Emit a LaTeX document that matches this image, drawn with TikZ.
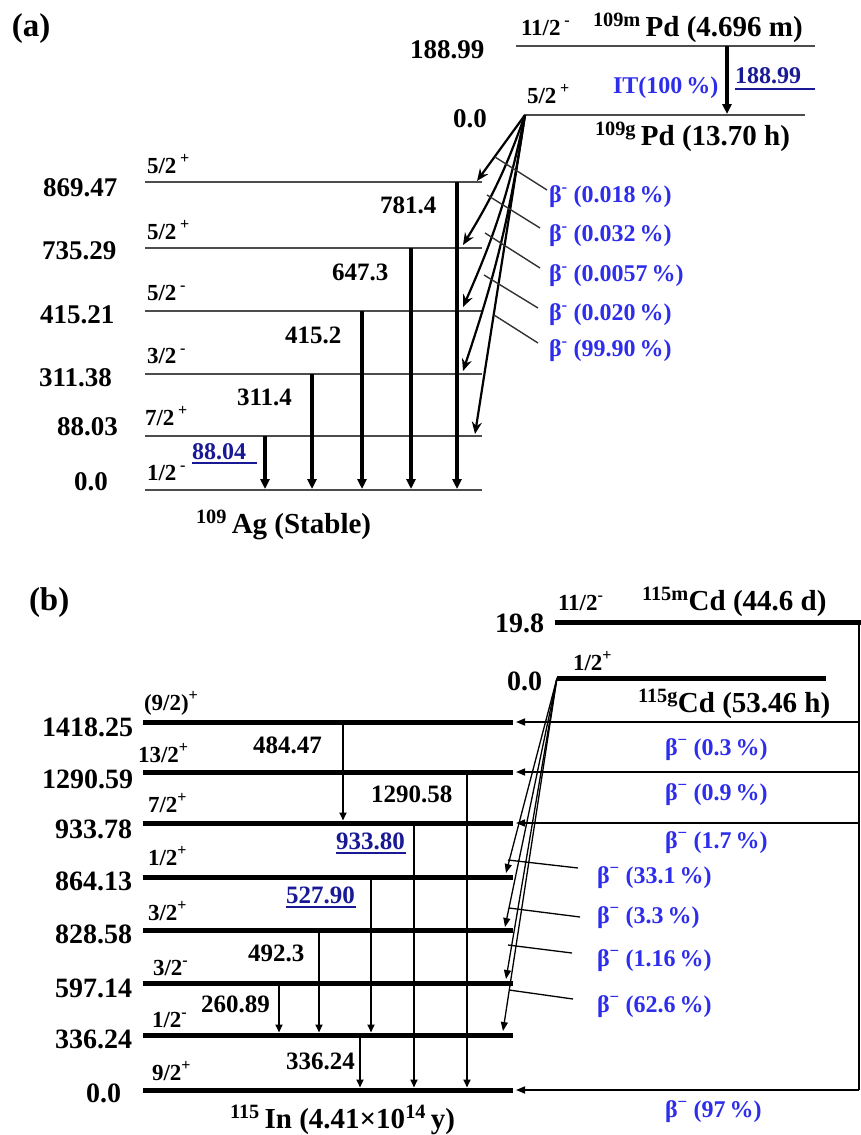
\documentclass[tikz,border=0pt]{standalone}
\usepackage{fontspec}
\setmainfont{Liberation Serif}
\usetikzlibrary{arrows.meta}
\definecolor{btxt}{RGB}{45,45,235}
\definecolor{ulblue}{RGB}{25,25,150}
\begin{document}
\begin{tikzpicture}[x=1pt,y=-1pt,
  every node/.style={inner sep=0pt, outer sep=0pt, anchor=base west},
  lvA/.style={draw=black!70, line width=1.6pt},
  lvB/.style={draw=black, line width=5pt},
  gA/.style={line width=3.4pt, -{Triangle[length=10pt,width=9pt]}, shorten >=1pt},
  bA/.style={line width=2.2pt, -{Stealth[length=12pt,width=10pt]}},
  ldA/.style={line width=1.4pt, draw=black!80},
  gB/.style={line width=1.8pt, -{Triangle[length=8pt,width=7pt]}, shorten >=2.5pt},
  bBh/.style={line width=1.6pt, -{Triangle[length=9pt,width=7pt]}},
  bBd/.style={line width=1.3pt, -{Triangle[length=9pt,width=7pt]}},
  ldB/.style={line width=1.3pt},
  ulin/.style={draw=ulblue, line width=1.5pt},
  panel/.style={font=\fontsize{33}{36}\selectfont\bfseries},
  enA/.style={font=\fontsize{27}{30}\selectfont\bfseries},
  spA/.style={font=\fontsize{23}{26}\selectfont\bfseries},
  gmA/.style={font=\fontsize{25}{28}\selectfont\bfseries},
  titA/.style={font=\fontsize{29}{32}\selectfont\bfseries},
  btA/.style={font=\fontsize{24}{26}\selectfont\bfseries, text=btxt},
  ulA/.style={font=\fontsize{24}{26}\selectfont\bfseries, text=ulblue},
  enB/.style={font=\fontsize{28}{30}\selectfont\bfseries},
  spB/.style={font=\fontsize{23}{26}\selectfont\bfseries},
  gmB/.style={font=\fontsize{25}{28}\selectfont\bfseries},
  titB/.style={font=\fontsize{29}{32}\selectfont\bfseries},
  btB/.style={font=\fontsize{24}{26}\selectfont\bfseries, text=btxt},
  ulB/.style={font=\fontsize{25}{28}\selectfont\bfseries, text=ulblue}
]
\useasboundingbox (0,0) rectangle (861,1135);

% ================= (a) =================
\node[panel] (lblA) at (12,36) {(a)};

% 109Pd levels
\coordinate (PmL) at (516,46);  \coordinate (PmR) at (815,46);
\coordinate (PgL) at (525,115); \coordinate (PgR) at (805,115);
\draw[lvA] (PmL) -- (PmR);
\draw[lvA] (PgL) -- (PgR);
\node[enA] (eA189) at (410,58) {188.99};
\node[spA] (sPdm) at (521,35) {11/2\,\textsuperscript{-}};
\node[titA] (tPdm) at (593,36) {\textsuperscript{109m}\,Pd (4.696 m)};
\node[spA] (sPdg) at (527,103) {5/2\,\textsuperscript{+}};
\node[enA] (eA0t) at (453,127) {0.0};
\node[titA] (tPdg) at (595,145) {\textsuperscript{109g}\,Pd (13.70 h)};
% IT transition
\coordinate (ITt) at (727,46); \coordinate (ITb) at (727,115);
\draw[gA] (ITt) -- (ITb);
\node[btA] (tIT) at (613,93) {IT(100\,\%)};
\node[ulA] (u189) at (735,83) {188.99};
\coordinate (u189a) at (735,89); \coordinate (u189b) at (815,89);
\draw[ulin] (u189a) -- (u189b);

% 109Ag levels
\foreach \n/\y in {L869/182, L735/248, L415/311, L311/374, L88/436, L0/490}{
  \coordinate (\n l) at (145,\y); \coordinate (\n r) at (482,\y);
  \draw[lvA] (\n l) -- (\n r);
}
\node[enA] (eA869) at (43,196) {869.47};
\node[enA] (eA735) at (42,259) {735.29};
\node[enA] (eA415) at (40,323) {415.21};
\node[enA] (eA311) at (39,386) {311.38};
\node[enA] (eA88)  at (57,435) {88.03};
\node[enA] (eA0)   at (74,490) {0.0};
\node[spA] (sA869) at (147,173) {5/2\,\textsuperscript{+}};
\node[spA] (sA735) at (147,239) {5/2\,\textsuperscript{+}};
\node[spA] (sA415) at (147,300) {5/2\,\textsuperscript{-}};
\node[spA] (sA311) at (147,363) {3/2\,\textsuperscript{-}};
\node[spA] (sA88)  at (145,425) {7/2\,\textsuperscript{+}};
\node[spA] (sA0)   at (147,480) {1/2\,\textsuperscript{-}};
\node[titA] (tAg) at (196,533) {\textsuperscript{109}\,Ag (Stable)};

% gamma transitions (a)
\foreach \n/\x/\ya in {g88/265/436, g311/312/374, g415/362/311, g647/411/248, g781/457/182}{
  \coordinate (\n t) at (\x,\ya); \coordinate (\n b) at (\x,490);
  \draw[gA] (\n t) -- (\n b);
}
\node[gmA] (lg781) at (380,213) {781.4};
\node[gmA] (lg647) at (332,280) {647.3};
\node[gmA] (lg415) at (285,343) {415.2};
\node[gmA] (lg311) at (237,405) {311.4};
\node[ulA] (lg88) at (192,459) {88.04};
\coordinate (u88a) at (192,463); \coordinate (u88b) at (257,463);
\draw[ulin] (u88a) -- (u88b);

% beta decays (a)
\coordinate (Ab1) at (477,181);
\coordinate (Ab2) at (463,245);
\coordinate (Ab3) at (463,307);
\coordinate (Ab4) at (463,371);
\coordinate (Ab5) at (475,434);
\draw[bA] (PgL) -- (Ab1);
\draw[bA] (PgL) to[bend left=6] (Ab2);
\draw[bA] (PgL) to[bend left=6] (Ab3);
\draw[bA] (PgL) to[bend left=5] (Ab4);
\draw[bA] (PgL) -- (Ab5);
\foreach \i/\xa/\ya/\xb/\yb in {1/495/157/547/190, 2/487/195/540/228, 3/485/233/540/268, 4/484/275/538/308, 5/494/315/538/343}{
  \coordinate (la\i) at (\xa,\ya); \coordinate (lb\i) at (\xb,\yb);
  \draw[ldA] (la\i) -- (lb\i);
}
\node[btA] (bA1) at (549,202) {β\textsuperscript{-} (0.018\,\%)};
\node[btA] (bA2) at (549,241) {β\textsuperscript{-} (0.032\,\%)};
\node[btA] (bA3) at (549,281) {β\textsuperscript{-} (0.0057\,\%)};
\node[btA] (bA4) at (549,320) {β\textsuperscript{-} (0.020\,\%)};
\node[btA] (bA5) at (549,356) {β\textsuperscript{-} (99.90\,\%)};

% ================= (b) =================
\node[panel] (lblB) at (29,610) {(b)};

% Cd levels
\coordinate (CmL) at (555,622); \coordinate (CmR) at (861,622);
\coordinate (CgL) at (557,678); \coordinate (CgR) at (826,678);
\draw[lvB] (CmL) -- (CmR);
\draw[lvB] (CgL) -- (CgR);
\coordinate (Vt) at (859,622); \coordinate (Vb) at (859,1090);
\draw[line width=1.6pt] (Vt) -- (Vb);
\node[enB] (eB198) at (495,632) {19.8};
\node[spB] (sCdm) at (558,610) {11/2\textsuperscript{-}};
\node[titB] (tCdm) at (642,610) {\textsuperscript{115m}Cd (44.6 d)};
\node[spB] (sCdg) at (573,670) {1/2\textsuperscript{+}};
\node[enB] (eB0t) at (507,690) {0.0};
\node[titB] (tCdg) at (638,712) {\textsuperscript{115g}Cd (53.46 h)};

% In levels
\foreach \n/\y in {M1418/722, M1290/772, M933/823, M864/877, M828/930, M597/983, M336/1035, M0/1090}{
  \coordinate (\n l) at (143,\y); \coordinate (\n r) at (513,\y);
  \draw[lvB] (\n l) -- (\n r);
}
\node[enB] (eB1418) at (42,736) {1418.25};
\node[enB] (eB1290) at (42,788) {1290.59};
\node[enB] (eB933)  at (55,838) {933.78};
\node[enB] (eB864)  at (55,890) {864.13};
\node[enB] (eB828)  at (55,943) {828.58};
\node[enB] (eB597)  at (55,997) {597.14};
\node[enB] (eB336)  at (55,1048) {336.24};
\node[enB] (eB0)    at (86,1102) {0.0};
\node[spB] (sB1418) at (144,710) {(9/2)\textsuperscript{+}};
\node[spB] (sB1290) at (138,762) {13/2\textsuperscript{+}};
\node[spB] (sB933)  at (148,812) {7/2\textsuperscript{+}};
\node[spB] (sB864)  at (148,865) {1/2\textsuperscript{+}};
\node[spB] (sB828)  at (148,920) {3/2\textsuperscript{+}};
\node[spB] (sB597)  at (153,975) {3/2\textsuperscript{-}};
\node[spB] (sB336)  at (152,1027) {1/2\textsuperscript{-}};
\node[spB] (sB0)    at (152,1080) {9/2\textsuperscript{+}};
\node[titB] (tIn) at (230,1128) {\textsuperscript{115}\,In (4.41×10\textsuperscript{14}\,y)};

% gamma transitions (b)
\foreach \n/\x/\ya/\yb in {h484/343/722/823, h1290/467/772/1090, h933/414/823/1090, h527/371/877/1035, h492/319/930/1035, h260/279/983/1035, h336/360/1035/1090}{
  \coordinate (\n t) at (\x,\ya); \coordinate (\n b) at (\x,\yb);
  \draw[gB] (\n t) -- (\n b);
}
\node[gmB] (lh484) at (253,753) {484.47};
\node[gmB] (lh1290) at (371,802) {1290.58};
\node[ulB] (lh933) at (336,849) {933.80};
\coordinate (u933a) at (336,853); \coordinate (u933b) at (406,853);
\draw[ulin] (u933a) -- (u933b);
\node[ulB] (lh527) at (286,903) {527.90};
\coordinate (u527a) at (286,907); \coordinate (u527b) at (356,907);
\draw[ulin] (u527a) -- (u527b);
\node[gmB] (lh492) at (248,961) {492.3};
\node[gmB] (lh260) at (201,1012) {260.89};
\node[gmB] (lh336) at (286,1069) {336.24};

% beta decays from 115mCd (horizontal)
\foreach \n/\y in {r1/722, r2/772, r3/823, r4/1090}{
  \coordinate (\n s) at (859,\y); \coordinate (\n e) at (516,\y);
  \draw[bBh] (\n s) -- (\n e);
}
\node[btB] (bB1) at (665,755) {β\textsuperscript{−} (0.3\,\%)};
\node[btB] (bB2) at (665,800) {β\textsuperscript{−} (0.9\,\%)};
\node[btB] (bB3) at (665,848) {β\textsuperscript{−} (1.7\,\%)};
\node[btB] (bB4) at (665,1117) {β\textsuperscript{−} (97\,\%)};

% beta decays from 115gCd (diagonal)
\coordinate (Bb1) at (506,873);
\coordinate (Bb2) at (505,927);
\coordinate (Bb3) at (506,979);
\coordinate (Bb4) at (503,1031);
\foreach \t in {Bb1,Bb2,Bb3,Bb4}{ \draw[bBd] (CgL) -- (\t); }
\foreach \i/\xa/\ya/\xb/\yb in {1/508/860/578/868, 2/509/908/580/917, 3/508/945/572/953, 4/509/990/573/999}{
  \coordinate (lc\i) at (\xa,\ya); \coordinate (ld\i) at (\xb,\yb);
  \draw[ldB] (lc\i) -- (ld\i);
}
\node[btB] (bB5) at (597,883) {β\textsuperscript{−} (33.1\,\%)};
\node[btB] (bB6) at (597,923) {β\textsuperscript{−} (3.3\,\%)};
\node[btB] (bB7) at (597,966) {β\textsuperscript{−} (1.16\,\%)};
\node[btB] (bB8) at (597,1012) {β\textsuperscript{−} (62.6\,\%)};
\end{tikzpicture}
\end{document}
